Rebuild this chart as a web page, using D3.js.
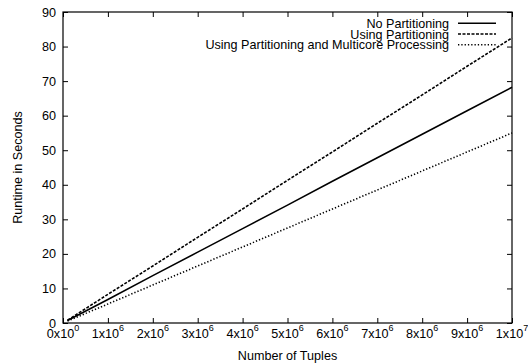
<!DOCTYPE html>
<html>
<head>
<meta charset="utf-8">
<script src="https://cdn.jsdelivr.net/npm/d3@7"></script>
<style>
  html, body { margin: 0; padding: 0; background: #fff; }
  svg { display: block; font-family: "Liberation Sans", Arial, Helvetica, sans-serif; }
</style>
</head>
<body>
<svg id="chart" width="528" height="364"></svg>
<script>
// Number of tuples processed
const tuples = [100000, 1000000, 2000000, 3000000, 4000000, 5000000, 6000000, 7000000, 8000000, 9000000, 10000000];

// Runtime in seconds for each strategy
const noPartitioning = [0.7, 6.8, 13.7, 20.5, 27.3, 34.1, 41.0, 47.8, 54.6, 61.4, 68.2];
const usingPartitioning = [0.8, 8.3, 16.5, 24.8, 33.0, 41.3, 49.5, 57.8, 66.0, 74.3, 82.5];
const partitioningMulticore = [0.55, 5.5, 11.0, 16.5, 22.0, 27.5, 33.0, 38.5, 44.0, 49.5, 55.0];

const seriesNames = ["No Partitioning", "Using Partitioning", "Using Partitioning and Multicore Processing"];

// Tick labels (mantissa x 10^exponent)
const xTickValues = [0, 1e6, 2e6, 3e6, 4e6, 5e6, 6e6, 7e6, 8e6, 9e6, 1e7];
const xTickMantissa = ["0", "1", "2", "3", "4", "5", "6", "7", "8", "9", "1"];
const xTickExponent = ["0", "6", "6", "6", "6", "6", "6", "6", "6", "6", "7"];
const yTickValues = [0, 10, 20, 30, 40, 50, 60, 70, 80, 90];

const series = [
  { name: seriesNames[0], values: noPartitioning, dash: null, width: 1.6 },
  { name: seriesNames[1], values: usingPartitioning, dash: "3,1.5", width: 1.6 },
  { name: seriesNames[2], values: partitioningMulticore, dash: "1.3,2", width: 1.6 }
];

const svg = d3.select("#chart");
const plotLeft = 63, plotRight = 512, plotTop = 12, plotBottom = 323;
const fontSize = 12.6;

const x = d3.scaleLinear().domain([0, 1e7]).range([plotLeft, plotRight]);
const y = d3.scaleLinear().domain([0, 90]).range([plotBottom, plotTop]);

const tickLen = 5;

// Mirrored inward ticks on all four sides
const axisBottom = d3.axisBottom(x).tickValues(xTickValues).tickSize(-tickLen).tickFormat("");
const axisTop = d3.axisTop(x).tickValues(xTickValues).tickSize(-tickLen).tickFormat("");
const axisLeft = d3.axisLeft(y).tickValues(yTickValues).tickSize(-tickLen).tickFormat("");
const axisRight = d3.axisRight(y).tickValues(yTickValues).tickSize(-tickLen).tickFormat("");

function styleAxis(g) {
  g.select(".domain").remove();
  g.selectAll(".tick line").attr("stroke", "#000").attr("stroke-width", 1);
}
svg.append("g").attr("transform", `translate(0,${plotBottom})`).call(axisBottom).call(styleAxis);
svg.append("g").attr("transform", `translate(0,${plotTop})`).call(axisTop).call(styleAxis);
svg.append("g").attr("transform", `translate(${plotLeft},0)`).call(axisLeft).call(styleAxis);
svg.append("g").attr("transform", `translate(${plotRight},0)`).call(axisRight).call(styleAxis);

// Plot frame
svg.append("rect")
  .attr("x", plotLeft).attr("y", plotTop)
  .attr("width", plotRight - plotLeft).attr("height", plotBottom - plotTop)
  .attr("fill", "none").attr("stroke", "#000").attr("stroke-width", 1.2);

// Y tick labels
svg.append("g").selectAll("text").data(yTickValues).join("text")
  .attr("x", plotLeft - 7)
  .attr("y", d => y(d))
  .attr("dy", "0.36em")
  .attr("text-anchor", "end")
  .attr("font-size", fontSize)
  .attr("fill", "#000")
  .text(d => d);

// X tick labels with superscript exponents
const xl = svg.append("g").selectAll("text").data(xTickValues).join("text")
  .attr("x", d => x(d))
  .attr("y", 337.5)
  .attr("text-anchor", "middle")
  .attr("font-size", fontSize)
  .attr("fill", "#000");
xl.append("tspan").text((d, i) => xTickMantissa[i] + "x10");
xl.append("tspan").attr("dy", -7).attr("font-size", 9).text((d, i) => xTickExponent[i]);

// Axis titles
svg.append("text")
  .attr("x", (plotLeft + plotRight) / 2).attr("y", 360)
  .attr("text-anchor", "middle").attr("font-size", fontSize).attr("fill", "#000")
  .text("Number of Tuples");
svg.append("text")
  .attr("transform", `translate(21.5,${(plotTop + plotBottom) / 2}) rotate(-90)`)
  .attr("text-anchor", "middle").attr("font-size", fontSize).attr("fill", "#000")
  .text("Runtime in Seconds");

// Series lines
const line = d3.line().x((d, i) => x(tuples[i])).y(d => y(d));
svg.append("g").selectAll("path").data(series).join("path")
  .attr("d", d => line(d.values))
  .attr("fill", "none")
  .attr("stroke", "#000")
  .attr("stroke-width", d => d.width)
  .attr("stroke-dasharray", d => d.dash);

// Legend
const legendRowY = [23.3, 34, 44.7];
const legend = svg.append("g").selectAll("g").data(series).join("g")
  .attr("transform", (d, i) => `translate(0,${legendRowY[i]})`);
legend.append("text")
  .attr("x", 449).attr("dy", "0.36em")
  .attr("text-anchor", "end").attr("font-size", fontSize).attr("fill", "#000")
  .text(d => d.name);
legend.append("line")
  .attr("x1", 458).attr("x2", 496)
  .attr("stroke", "#000")
  .attr("stroke-width", d => d.width)
  .attr("stroke-dasharray", d => d.dash);
</script>
</body>
</html>
